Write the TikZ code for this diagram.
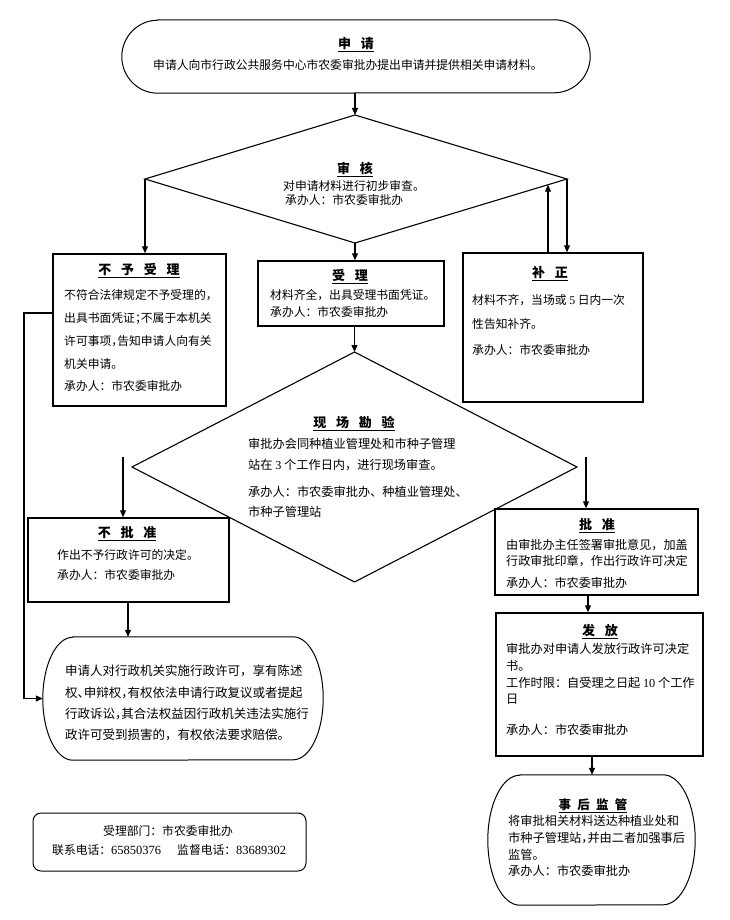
\documentclass[tikz,border=0pt]{standalone}
\usepackage{fontspec}
\setmainfont{Noto Sans CJK SC}
\newfontfamily\tms{Liberation Serif}
\usetikzlibrary{arrows.meta,calc}
\newcommand\hp[1]{\makebox[0.5em][l]{#1}}
\newcommand\tsp{\hspace{0.75em}}
\newcommand\stadium[3]{\draw[stadline] ([xshift=#2]#1.north west) -- ([xshift=-#2]#1.north east)
  arc[start angle=90,end angle=-90,x radius=#2,y radius=#3] -- ([xshift=#2]#1.south west)
  arc[start angle=270,end angle=90,x radius=#2,y radius=#3] -- cycle;}
\begin{document}
\begin{tikzpicture}[x=1pt,y=-1pt,
  txt/.style={inner sep=0pt, anchor=west, text height=9.5pt, text depth=2.5pt, font=\fontsize{#1}{#1}\selectfont},
  txt/.default=11.8,
  ttl/.style={inner sep=0pt, text height=10pt, text depth=3pt, font=\fontsize{13}{13}\selectfont\bfseries},
  boxn/.style={draw, line width=1.5pt, fill=white, inner sep=0pt},
  stad/.style={inner sep=0pt},
  stadline/.style={draw, line width=1pt, fill=white},
  dia/.style={draw, line width=1.1pt, line join=miter},
  arr/.style={line width=1.2pt, -{Triangle[length=7pt,width=6pt]}},
]
\useasboundingbox (0,0) rectangle (730,920);

% diamonds
\coordinate (d1n) at (355,115);
\coordinate (d1e) at (567,179);
\coordinate (d1s) at (355,243);
\coordinate (d1w) at (145,179);
\draw[dia] (d1n) -- (d1e) -- (d1s) -- (d1w) -- cycle;
\coordinate (d2n) at (354.5,352);
\coordinate (d2e) at (577,467);
\coordinate (d2s) at (354.5,582);
\coordinate (d2w) at (132,467);
\draw[dia] (d2n) -- (d2e) -- (d2s) -- (d2w) -- cycle;

% shapes
\node[stad, minimum width=468pt, minimum height=73pt] (apply) at (356,56.5) {};
\stadium{apply}{36pt}{36.5pt}
\node[boxn, minimum width=173pt, minimum height=152pt] (nsl) at (139.5,330) {};
\node[boxn, minimum width=186pt, minimum height=65pt] (sl) at (351,293.5) {};
\node[boxn, minimum width=180pt, minimum height=149pt] (bz) at (553,327.5) {};
\node[boxn, minimum width=201pt, minimum height=84pt] (npz) at (128.5,560) {};
\node[boxn, minimum width=203pt, minimum height=86pt] (pz) at (596.5,552) {};
\node[boxn, minimum width=207pt, minimum height=143pt] (ff) at (599.5,684.5) {};
\node[stad, minimum width=280pt, minimum height=123pt] (rights) at (183,698.5) {};
\stadium{rights}{30pt}{61.5pt}
\node[stad, minimum width=207pt, minimum height=130pt] (jg) at (591.5,840) {};
\stadium{jg}{32pt}{65pt}
\node[draw, line width=1pt, rounded corners=8pt, minimum width=273pt, minimum height=58pt, inner sep=0pt] (info) at (169.5,842) {};

% connectors
\draw[arr] (apply.south -| d1n) -- (d1n);
\draw[arr] (d1w) -- (d1w |- nsl.north);
\draw[arr] (d1s) -- (d1s |- sl.north);
\draw[arr] (d1e) -- (d1e |- bz.north);
\coordinate (fb) at ($(d1e)!0.0896!(d1s)$);
\draw[arr] (fb |- bz.north) -- (fb);
\draw[arr] (d2n |- sl.south) -- (d2n);
\coordinate (nbs) at (123,457);
\draw[arr] (nbs) -- (nbs |- npz.north);
\coordinate (pzs) at (586,457);
\draw[arr] (pzs) -- (pzs |- pz.north);
\coordinate (c1) at (128,0);
\draw[arr] (c1 |- npz.south) -- (c1 |- rights.north);
\coordinate (c2) at (588,0);
\draw[arr] (c2 |- pz.south) -- (c2 |- ff.north);
\coordinate (c3) at (592,0);
\draw[arr] (c3 |- ff.south) -- (c3 |- jg.north);
\coordinate (lt) at (24,313);
\draw[arr] (lt -| nsl.west) -- (lt) |- (rights.west);

% texts: apply
\node[ttl] (applyT) at (356,45) {\underline{申\tsp 请}};
\node[txt] (applyL) at (153,66) {申请人向市行政公共服务中心市农委审批办提出申请并提供相关申请材料。};
% review
\node[ttl] (d1T) at (355,170) {\underline{审\tsp 核}};
\node[txt] (d1L1) at (283,187) {对申请材料进行初步审查。};
\node[txt] (d1L2) at (285,201) {承办人：市农委审批办};
% not accepted
\node[ttl] (nslT) at (139,271) {\underline{不\tsp 予\tsp 受\tsp 理}};
\node[txt] (nslL1) at (64,296) {不符合法律规定不予受理的，};
\node[txt] (nslL2) at (64,319) {出具书面凭证\hp{；}不属于本机关};
\node[txt] (nslL3) at (64,342) {许可事项\hp{，}告知申请人向有关};
\node[txt] (nslL4) at (64,365) {机关申请。};
\node[txt] (nslL5) at (64,387) {承办人：市农委审批办};
% accepted
\node[ttl] (slT) at (350,277) {\underline{受\tsp 理}};
\node[txt] (slL1) at (270,296) {材料齐全，出具受理书面凭证。};
\node[txt] (slL2) at (270,313) {承办人：市农委审批办};
% supplement
\node[ttl] (bzT) at (550,274) {\underline{补\tsp 正}};
\node[txt] (bzL1) at (472,301) {材料不齐，当场或 {\tms 5} 日内一次};
\node[txt] (bzL2) at (472,325) {性告知补齐。};
\node[txt] (bzL3) at (472,351) {承办人：市农委审批办};
% inspection
\node[ttl] (d2T) at (354,424) {\underline{现\tsp 场\tsp 勘\tsp 验}};
\node[txt=12.2] (d2L1) at (248,445) {审批办会同种植业管理处和市种子管理};
\node[txt=12.2] (d2L2) at (248,466) {站在 {\tms 3} 个工作日内，进行现场审查。};
\node[txt=12.2] (d2L3) at (248,493) {承办人：市农委审批办、种植业管理处、};
\node[txt=12.2] (d2L4) at (248,513) {市种子管理站};
% not approved
\node[ttl] (npzT) at (127,534) {\underline{不\tsp 批\tsp 准}};
\node[txt] (npzL1) at (57,556) {作出不予行政许可的决定。};
\node[txt] (npzL2) at (57,576) {承办人：市农委审批办};
% approved
\node[ttl] (pzT) at (597,526) {\underline{批\tsp 准}};
\node[txt=12.1] (pzL1) at (506,546) {由审批办主任签署审批意见，加盖};
\node[txt=12.1] (pzL2) at (506,562) {行政审批印章，作出行政许可决定};
\node[txt=12.1] (pzL3) at (506,584) {承办人：市农委审批办};
% issue
\node[ttl] (ffT) at (600,632) {\underline{发\tsp 放}};
\node[txt=12.2] (ffL1) at (506,650) {审批办对申请人发放行政许可决定};
\node[txt=12.2] (ffL2) at (506,667) {书。};
\node[txt=12.2] (ffL3) at (506,684) {工作时限：自受理之日起 {\tms 10} 个工作};
\node[txt=12.2] (ffL4) at (506,700) {日};
\node[txt=12.2] (ffL5) at (506,731) {承办人：市农委审批办};
% rights
\node[txt=12.5] (rL1) at (65,672) {申请人对行政机关实施行政许可，享有陈述};
\node[txt=12.5] (rL2) at (65,694) {权\hp{、}申辩权\hp{，}有权依法申请行政复议或者提起};
\node[txt=12.5] (rL3) at (65,715) {行政诉讼\hp{，}其合法权益因行政机关违法实施行};
\node[txt=12.5] (rL4) at (65,736) {政许可受到损害的，有权依法要求赔偿。};
% supervision
\node[inner sep=0pt, text height=10pt, text depth=3pt, font=\fontsize{12.5}{12.5}\selectfont\bfseries] (jgT) at (593,806) {\underline{事\hspace{0.5em}后\hspace{0.5em}监\hspace{0.5em}管}};
\node[txt=12.2] (jgL1) at (508,822) {将审批相关材料送达种植业处和};
\node[txt=12.2] (jgL2) at (508,839) {市种子管理站\hp{，}并由二者加强事后};
\node[txt=12.2] (jgL3) at (508,856) {监管。};
\node[txt=12.2] (jgL4) at (508,872) {承办人：市农委审批办};
% info
\node[txt] (iL1) at (103,832) {受理部门：市农委审批办};
\node[txt] (iL2) at (52,851) {联系电话：{\tms\fontsize{12.5}{12.5}\selectfont 65850376}};
\node[txt] (iL3) at (177,851) {监督电话：{\tms\fontsize{12.5}{12.5}\selectfont 83689302}};
\end{tikzpicture}
\end{document}
